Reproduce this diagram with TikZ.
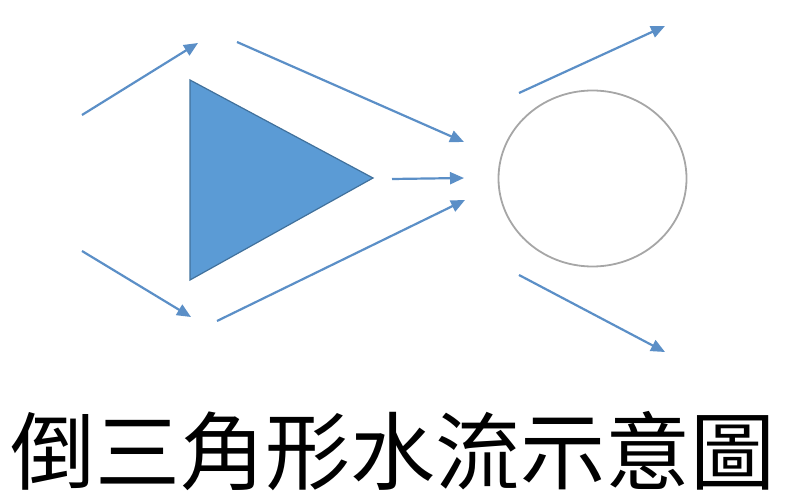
\documentclass[tikz,border=0pt]{standalone}
\usepackage{fontspec}
\newfontfamily\cjk{Noto Sans CJK TC}
\usetikzlibrary{arrows.meta}
\definecolor{flowblue}{HTML}{5B8FC7}
\definecolor{trifill}{HTML}{5B9BD5}
\definecolor{triedge}{HTML}{41719C}
\definecolor{ringgray}{HTML}{A6A6A6}
\tikzset{
  flow/.style={draw=flowblue, line width=2.2pt, -{Triangle[length=14pt,width=12pt]}},
}
\begin{document}
\begin{tikzpicture}[x=1pt,y=-1pt]
\useasboundingbox (0,0) rectangle (786,502);
% triangle
\coordinate (t1) at (190,80);
\coordinate (t2) at (190,280);
\coordinate (t3) at (373,178);
\filldraw[fill=trifill, draw=triedge, line width=1.2pt] (t1) -- (t3) -- (t2) -- cycle;
% circle
\coordinate (c) at (592.5,178.5);
\draw[ringgray, line width=1.8pt] (c) ellipse [x radius=94, y radius=88];
% arrows
\coordinate (a1s) at (82,115);  \coordinate (a1e) at (198,43);
\coordinate (a2s) at (237,42);  \coordinate (a2e) at (464,142);
\coordinate (a3s) at (392,179); \coordinate (a3e) at (464,178);
\coordinate (a4s) at (217,321); \coordinate (a4e) at (465,200);
\coordinate (a5s) at (82,251);  \coordinate (a5e) at (191,317);
\coordinate (a6s) at (519,93);  \coordinate (a6e) at (665,26);
\coordinate (a7s) at (519,275); \coordinate (a7e) at (665,352);
\draw[flow] (a1s) -- (a1e);
\draw[flow] (a2s) -- (a2e);
\draw[flow] (a3s) -- (a3e);
\draw[flow] (a4s) -- (a4e);
\draw[flow] (a5s) -- (a5e);
\draw[flow] (a6s) -- (a6e);
\draw[flow] (a7s) -- (a7e);
% caption
\node[inner sep=0pt, font=\cjk\fontsize{85}{85}\selectfont] (title) at (393,451) {倒三角形水流示意圖};
\end{tikzpicture}
\end{document}
